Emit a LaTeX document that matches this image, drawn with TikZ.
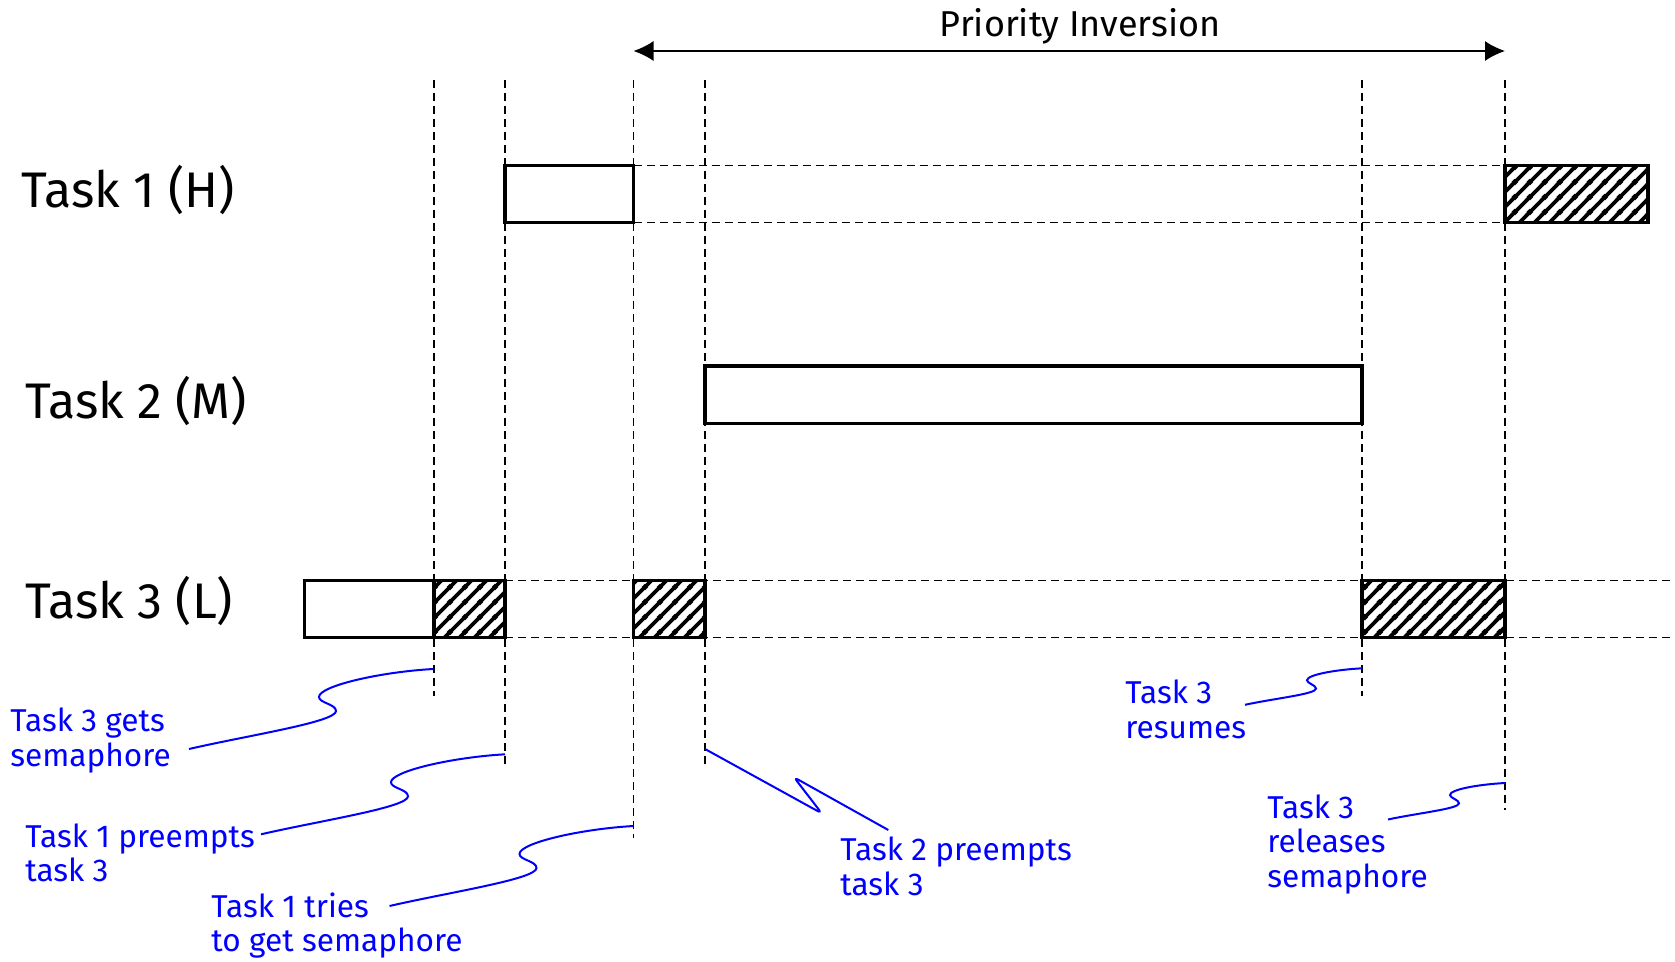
\documentclass[tikz,border=0pt]{standalone}
\usepackage{fontspec}
\setmainfont{Fira Sans}
\usetikzlibrary{arrows.meta,patterns.meta}

\tikzdeclarepattern{
  name=hatch,
  bottom left={(0pt,0pt)},
  top right={(7.5pt,7.5pt)},
  tile size={(7.5pt,7.5pt)},
  code={
    \draw[line width=2pt] (-1pt,-1pt) -- (8.5pt,8.5pt);
    \draw[line width=2pt] (-1pt,6.5pt) -- (1pt,8.5pt);
    \draw[line width=2pt] (6.5pt,-1pt) -- (8.5pt,1pt);
  }
}

\tikzset{
  >={Latex[length=10pt,width=10pt]},
  taskbox/.style={draw, line width=1.6pt, fill=white},
  busybox/.style={draw, line width=1.6pt, preaction={fill=white}, pattern=hatch},
  guide/.style={dash pattern=on 4pt off 2.5pt, line width=0.7pt},
  tasklabel/.style={font=\fontsize{25}{30}\selectfont, inner sep=0pt, anchor=base west},
  note/.style={text=blue, font=\fontsize{15.8}{17.25}\selectfont, align=left, inner sep=0pt, anchor=base west},
  squiggle/.style={blue, line width=1pt}
}

\begin{document}
\begin{tikzpicture}[x=0.5pt,y=-0.5pt]
    \useasboundingbox (0,0) rectangle (1675,962);
    % time marks
    \foreach \x/\yb in {434/696,505/766,633.5/838,705/767,1362/696,1505/810}
        \draw[guide] (\x,80) -- (\x,\yb);
    % row guides
    \draw[guide] (633.5,165.5) -- (1505,165.5) (633.5,222.5) -- (1505,222.5);
    \draw[guide] (505,580.5) -- (1675,580.5) (505,637.5) -- (1675,637.5);

    % Task 1
    \draw[taskbox] (505,165.5) rectangle (633.5,222.5);
    \draw[busybox] (1505,165.5) rectangle (1648,222.5);
    % Task 2
    \draw[taskbox] (705,366) rectangle (1362,423.5);
    % Task 3
    \draw[taskbox] (304.5,580.5) rectangle (434,637.5);
    \foreach \xa/\xb in {434/505,633.5/705,1362/1505}
        \draw[busybox] (\xa,580.5) rectangle (\xb,637.5);

    \node[tasklabel] (task1lbl) at (21,208) {Task 1 (H)};
    \node[tasklabel] (task2lbl) at (25,418) {Task 2 (M)};
    \node[tasklabel] (task3lbl) at (25,618) {Task 3 (L)};

    % priority inversion span
    \coordinate (invstart) at (633.5,51);
    \coordinate (invend) at (1505,51);
    \draw[<->, line width=0.8pt] (invstart) -- (invend);
    \node[font=\fontsize{18}{20}\selectfont, inner sep=0pt, anchor=base] (invlbl) at (1080,36.7) {Priority Inversion};

    % notes (base = last line)
    \node[note] (getsnote) at (10,766) {Task 3 gets\\semaphore};
    \node[note] (pre1note) at (25,881.7) {Task 1 preempts\\task 3};
    \node[note] (triesnote) at (211,951.7) {Task 1 tries\\to get semaphore};
    \node[note] (pre2note) at (840,895) {Task 2 preempts\\task 3};
    \node[note] (resumenote) at (1125,738) {Task 3\\resumes};
    \node[note] (releasenote) at (1267,887.3) {Task 3\\releases\\semaphore};

    \coordinate (getsS) at (189,749);      \coordinate (getsE) at (433,669);
    \coordinate (pre1S) at (261,834.3);    \coordinate (pre1E) at (505,754.3);
    \coordinate (triesS) at (389.5,906);   \coordinate (triesE) at (633.5,826);
    \coordinate (pre2S) at (888.3,830);    \coordinate (pre2E) at (705,749);
    \coordinate (resumeS) at (1245,704.8); \coordinate (resumeE) at (1362,668.3);
    \coordinate (releaseS) at (1388,819.5);\coordinate (releaseE) at (1505,783);

    \draw[squiggle] (getsS) .. controls +(61,-14) and +(0,11) .. (336,711)
        .. controls +(0,-7) and +(0,6) .. (319,697) .. controls +(0,-11) and +(-53,3) .. (getsE);
    \draw[squiggle] (pre1S) .. controls +(61,-14) and +(0,11) .. (408,796.3)
        .. controls +(0,-7) and +(0,6) .. (391,782.3) .. controls +(0,-11) and +(-53,3) .. (pre1E);
    \draw[squiggle] (triesS) .. controls +(61,-14) and +(0,11) .. (536.5,868)
        .. controls +(0,-7) and +(0,6) .. (519.5,854) .. controls +(0,-11) and +(-53,3) .. (triesE);
    \draw[squiggle, rounded corners=2.5pt] (pre2S) -- (794,777.3) -- (821.7,813.3) -- (pre2E);
    \draw[squiggle] (resumeS) .. controls +(30,-6.5) and +(0,5.5) .. (1316,688.6)
        .. controls +(0,-3.5) and +(0,3) .. (1307,680.3) .. controls +(0,-5.5) and +(-27,1.5) .. (resumeE);
    \draw[squiggle] (releaseS) .. controls +(30,-6.5) and +(0,5.5) .. (1459,803.3)
        .. controls +(0,-3.5) and +(0,3) .. (1450,795) .. controls +(0,-5.5) and +(-27,1.5) .. (releaseE);
\end{tikzpicture}
\end{document}
